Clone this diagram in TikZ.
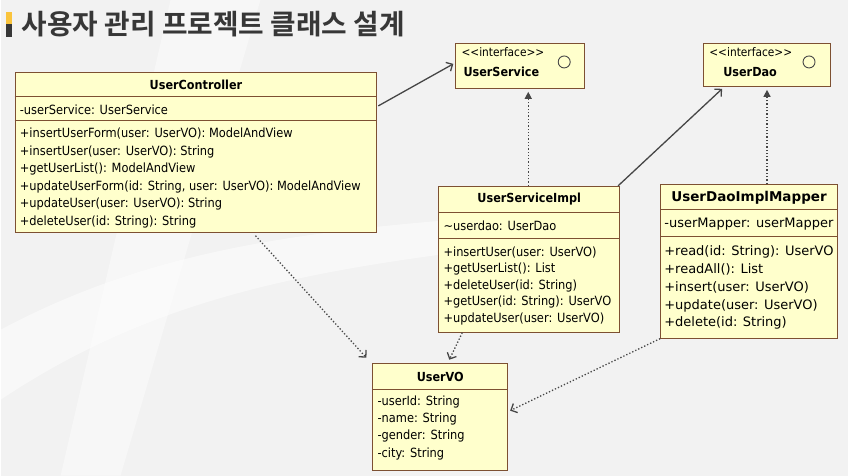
\documentclass[tikz,border=0pt]{standalone}
\usepackage{fontspec}
\usepackage{tikz}
\usetikzlibrary{positioning,calc}
\usetikzlibrary{arrows.meta}
\newfontfamily\umlfont{DejaVu Sans Condensed}
\newfontfamily\mapfont{DejaVu Sans}
\newfontfamily\krfont{Noto Sans CJK KR Bold}
\definecolor{PageGray}{RGB}{242,242,242}
\definecolor{BoxFill}{RGB}{255,255,204}
\definecolor{BoxLine}{RGB}{125,80,50}
\definecolor{LinkGray}{RGB}{70,70,70}
\definecolor{TitleGray}{RGB}{55,55,55}
\definecolor{BarYellow}{RGB}{250,196,60}
\tikzset{
	cls/.style={draw=BoxLine,fill=BoxFill,line width=0.9pt,inner sep=0pt,anchor=north west},
	sep/.style={draw=BoxLine,line width=0.9pt},
	mem/.style={anchor=west,inner sep=0pt,font=\umlfont\fontsize{12.7}{15}\selectfont},
	ttl/.style={inner sep=0pt,font=\umlfont\bfseries\fontsize{12.5}{14}\selectfont},
	assoc/.style={draw=LinkGray,line width=1.3pt,-{Straight Barb[length=5pt,width=10pt]}},
	dep/.style={draw=LinkGray,line width=1.3pt,dotted,-{Straight Barb[length=5pt,width=10pt]}},
	real/.style={draw=LinkGray,line width=1.3pt,dotted,-{Triangle[length=7pt,width=7pt]},shorten >=3pt},
}
\begin{document}
\begin{tikzpicture}[x=1pt,y=-1pt]
	% page
	\fill[PageGray] (0,0) rectangle (848,476);
	\fill[white,opacity=0.5] (0,330) .. controls (150,250) and (300,230) .. (520,215) -- (520,245) .. controls (300,270) and (150,300) .. (0,400) -- cycle;
	\fill[white,opacity=0.4] (170,0) -- (260,0) -- (120,476) -- (60,476) -- cycle;
	% title
	\fill[BarYellow] (5,12) rectangle (11,24);
	\fill[TitleGray] (5,24) rectangle (11,37);
	\node[anchor=west,inner sep=0pt,text=TitleGray,font=\krfont\fontsize{27.8}{32}\selectfont] (title) at (21,24) {사용자 관리 프로젝트 클래스 설계};

	% UserController
	\node[cls,minimum width=362pt,minimum height=160pt] (ctrl) at (14,72) {};
	\draw[sep] (ctrl.west |- 0,97) -- (ctrl.east |- 0,97);
	\draw[sep] (ctrl.west |- 0,121) -- (ctrl.east |- 0,121);
	\node[ttl] (ctrlT) at (ctrl.north |- 0,85) {UserController};
	\node[mem] (ctrlA) at (19,110) {-userService: UserService};
	\foreach \s [count=\i] in {{+insertUserForm(user: UserVO): ModelAndView},
		{+insertUser(user: UserVO): String},{+getUserList(): ModelAndView},
		{+updateUserForm(id: String, user: UserVO): ModelAndView},
		{+updateUser(user: UserVO): String},{+deleteUser(id: String): String}}
		\node[mem] (ctrlM\i) at (19,{116.5+17.6*\i}) {\s};

	% interfaces
	\node[cls,minimum width=129pt,minimum height=45pt] (svc) at (455,43) {};
	\node[mem,font=\umlfont\fontsize{11.8}{13}\selectfont] (svcS) at (461,52) {<<interface>>};
	\node[ttl,anchor=west] (svcT) at (463,72) {UserService};
	\draw[LinkGray,line width=0.9pt] (564,62) circle (6);
	\node[cls,minimum width=127pt,minimum height=43pt] (dao) at (703,43) {};
	\node[mem,font=\umlfont\fontsize{11.8}{13}\selectfont] (daoS) at (709,52) {<<interface>>};
	\node[ttl,anchor=west] (daoT) at (723,72) {UserDao};
	\draw[LinkGray,line width=0.9pt] (809,62) circle (6);

	% UserServiceImpl
	\node[cls,minimum width=181pt,minimum height=146pt] (impl) at (438,186) {};
	\draw[sep] (impl.west |- 0,213) -- (impl.east |- 0,213);
	\draw[sep] (impl.west |- 0,239) -- (impl.east |- 0,239);
	\node[ttl] (implT) at (impl.north |- 0,199) {UserServiceImpl};
	\node[mem] (implA) at (443,226) {\textasciitilde userdao: UserDao};
	\foreach \s [count=\i] in {{+insertUser(user: UserVO)},{+getUserList(): List},
		{+deleteUser(id: String)},{+getUser(id: String): UserVO},{+updateUser(user: UserVO)}}
		\node[mem] (implM\i) at (443,{236.5+16.5*\i}) {\s};

	% UserDaoImplMapper
	\node[cls,minimum width=177pt,minimum height=154pt] (mapper) at (660,184) {};
	\draw[sep] (mapper.west |- 0,210) -- (mapper.east |- 0,210);
	\draw[sep] (mapper.west |- 0,237) -- (mapper.east |- 0,237);
	\node[ttl,font=\mapfont\bfseries\fontsize{13.5}{16}\selectfont] (mapperT) at (mapper.north |- 0,198) {UserDaoImplMapper};
	\node[mem,font=\mapfont\fontsize{13}{16}\selectfont] (mapperA) at (664,224) {-userMapper: userMapper};
	\foreach \s [count=\i] in {{+read(id: String): UserVO},{+readAll(): List},
		{+insert(user: UserVO)},{+update(user: UserVO)},{+delete(id: String)}}
		\node[mem,font=\mapfont\fontsize{13}{16}\selectfont] (mapperM\i) at (664,{234.5+17.8*\i}) {\s};

	% UserVO
	\node[cls,minimum width=135pt,minimum height=107pt] (vo) at (372,363) {};
	\draw[sep] (vo.west |- 0,390) -- (vo.east |- 0,390);
	\node[ttl] (voT) at (vo.north |- 0,377) {UserVO};
	\foreach \s [count=\i] in {{-userId: String},{-name: String},{-gender: String},{-city: String}}
		\node[mem] (voA\i) at (377,{384.5+17.4*\i}) {\s};

	% links
	\draw[assoc] ($(ctrl.north east)+(1,34)$) -- ($(svc.west)+(-2,-2)$);
	\draw[real] (impl.north -| 0,0) ++(528,0) coordinate (implUp) -- (implUp |- svc.south);
	\draw[assoc] ($(impl.north east)+(-2,0)$) -- ($(dao.south west)+(19,2)$);
	\draw[real] (dao.south |- mapper.north) -- (dao.south);
	\draw[dep] ($(ctrl.south west)+(241,3)$) -- ($(vo.north west)+(-6,-5)$);
	\draw[dep] ($(impl.south west)+(24,0)$) -- ($(vo.north west)+(77,-3)$);
	\draw[dep] (mapper.south west) -- ($(vo.east)+(2,-6)$);
\end{tikzpicture}
\end{document}
